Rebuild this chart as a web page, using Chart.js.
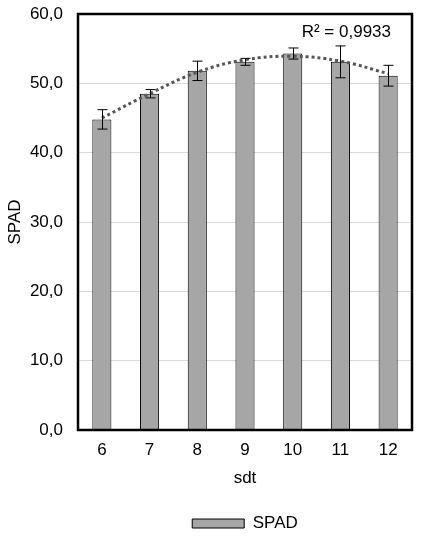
<!DOCTYPE html>
<html>
<head>
<meta charset="utf-8">
<script src="https://cdn.jsdelivr.net/npm/chart.js@4/dist/chart.umd.min.js"></script>
<style>
  html, body { margin: 0; padding: 0; background: #fff; }
  #wrap { width: 423px; height: 538px; }
</style>
</head>
<body>
<div id="wrap"><canvas id="c" width="423" height="538"></canvas></div>
<script>
const labels = ['6', '7', '8', '9', '10', '11', '12'];
const spad = [44.8, 48.5, 51.8, 53.1, 54.3, 53.1, 51.1];
const spadErr = [1.4, 0.6, 1.4, 0.5, 0.8, 2.3, 1.5];
const trend = [45.0, 48.5, 51.6, 53.4, 53.9, 53.2, 51.4];
const r2Text = 'R\u00b2 = 0,9933';

const FONT = 'Liberation Sans, Arial, sans-serif';
const FS = 17;

// frame, error bars and R² text
const extras = {
  id: 'extras',
  afterDatasetsDraw(chart) {
    const { ctx, scales } = chart;
    const meta = chart.getDatasetMeta(0);
    ctx.save();
    ctx.strokeStyle = '#000';
    ctx.lineWidth = 1;
    meta.data.forEach((bar, i) => {
      const hi = scales.y.getPixelForValue(spad[i] + spadErr[i]);
      const lo = scales.y.getPixelForValue(spad[i] - spadErr[i]);
      const x = Math.round(bar.x) + 0.5;
      ctx.beginPath();
      ctx.moveTo(x, hi); ctx.lineTo(x, lo);
      ctx.moveTo(x - 5, hi); ctx.lineTo(x + 5, hi);
      ctx.moveTo(x - 5, lo); ctx.lineTo(x + 5, lo);
      ctx.stroke();
    });
    ctx.restore();
  },
  afterDraw(chart) {
    const { ctx, chartArea } = chart;
    ctx.save();
    ctx.strokeStyle = '#000';
    ctx.lineWidth = 2.5;
    ctx.strokeRect(chartArea.left, chartArea.top, chartArea.right - chartArea.left, chartArea.bottom - chartArea.top);
    ctx.fillStyle = '#000';
    ctx.font = FS + 'px ' + FONT;
    ctx.textAlign = 'right';
    ctx.textBaseline = 'middle';
    ctx.fillText(r2Text, chartArea.right - 21, chartArea.top + 18);
    ctx.restore();
  }
};

new Chart(document.getElementById('c'), {
  type: 'bar',
  data: {
    labels: labels,
    datasets: [
      {
        type: 'bar',
        label: 'SPAD',
        data: spad,
        backgroundColor: '#a6a6a6',
        borderColor: '#000',
        borderWidth: 1,
        barPercentage: 0.8,
        categoryPercentage: 0.5,
        order: 2
      },
      {
        type: 'line',
        label: 'trend',
        data: trend,
        borderColor: '#555555',
        borderWidth: 3,
        borderDash: [3, 3],
        pointRadius: 0,
        tension: 0.4,
        fill: false,
        order: 1
      }
    ]
  },
  options: {
    responsive: false,
    animation: false,
    layout: { padding: { top: 14, right: 11, bottom: -4, left: 0 } },
    plugins: {
      tooltip: { enabled: false },
      legend: {
        position: 'bottom',
        fullSize: false,
        labels: {
          filter: (item) => item.text === 'SPAD',
          boxWidth: 52,
          boxHeight: 9,
          color: '#000',
          font: { family: FONT, size: FS },
          padding: 6
        }
      }
    },
    scales: {
      x: {
        afterFit: (s) => { s.height = 79; },
        grid: { display: false },
        border: { display: false },
        ticks: { color: '#000', font: { family: FONT, size: FS }, padding: 2 },
        title: { display: true, text: 'sdt', color: '#000', font: { family: FONT, size: FS }, padding: 20 }
      },
      y: {
        min: 0,
        max: 60,
        afterFit: (s) => { s.width = 78; },
        ticks: {
          stepSize: 10,
          color: '#000',
          font: { family: FONT, size: FS },
          padding: 0,
          callback: (v) => v.toFixed(1).replace('.', ',')
        },
        grid: { color: '#d9d9d9', drawTicks: true, tickLength: 15, tickColor: 'rgba(0,0,0,0)' },
        border: { display: false },
        title: { display: true, text: 'SPAD', color: '#000', font: { family: FONT, size: FS }, padding: 5 }
      }
    }
  },
  plugins: [extras]
});
</script>
</body>
</html>
